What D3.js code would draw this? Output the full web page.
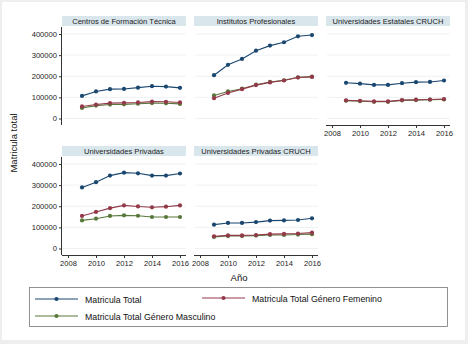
<!DOCTYPE html>
<html><head><meta charset="utf-8">
<script src="https://cdn.jsdelivr.net/npm/d3@7"></script>
<style>body{margin:0;background:#fff}svg{display:block}text{font-family:"Liberation Sans",Arial,sans-serif}</style>
</head><body><svg id="c" width="468" height="344"></svg>
<script>
const years = [2009, 2010, 2011, 2012, 2013, 2014, 2015, 2016];
const panelNames = ["Centros de Formación Técnica", "Institutos Profesionales", "Universidades Estatales CRUCH", "Universidades Privadas", "Universidades Privadas CRUCH"];
const seriesNames = ["Matricula Total", "Matricula Total Género Femenino", "Matricula Total Género Masculino"];
// per panel: total, female, male
const cftTotal = [107000, 128000, 139000, 140000, 146000, 153000, 151000, 145000];
const cftFem = [57000, 66000, 73000, 74000, 76000, 80000, 79000, 76000];
const cftMasc = [50000, 61000, 66000, 67000, 70000, 73000, 72000, 69000];
const ipTotal = [205000, 254000, 282000, 321000, 345000, 361000, 389000, 395000];
const ipFem = [96000, 121000, 139000, 158000, 171000, 180000, 194000, 197000];
const ipMasc = [109000, 128000, 141000, 160000, 173000, 181000, 195000, 198000];
const ueTotal = [169000, 165000, 159000, 159000, 167000, 172000, 173000, 180000];
const ueFem = [86000, 84000, 81000, 81000, 87000, 89000, 90000, 92000];
const ueMasc = [84000, 82000, 79000, 79000, 86000, 87000, 89000, 90000];
const upTotal = [289000, 314000, 345000, 359000, 356000, 345000, 345000, 355000];
const upFem = [154000, 173000, 191000, 204000, 199000, 195000, 198000, 204000];
const upMasc = [133000, 141000, 154000, 157000, 155000, 149000, 149000, 149000];
const upcTotal = [113000, 121000, 121000, 125000, 132000, 133000, 135000, 143000];
const upcFem = [58000, 62000, 62000, 64000, 68000, 69000, 71000, 75000];
const upcMasc = [55000, 59000, 59000, 61000, 64000, 64000, 66000, 68000];
const yTicks = [0, 100000, 200000, 300000, 400000];
const xTicks = [2008, 2010, 2012, 2014, 2016];

const panelData = [
  [cftTotal, cftFem, cftMasc],
  [ipTotal, ipFem, ipMasc],
  [ueTotal, ueFem, ueMasc],
  [upTotal, upFem, upMasc],
  [upcTotal, upcFem, upcMasc]
];
const colors = ["#1a476f", "#93394a", "#58783a"];

const svg = d3.select("#c");
svg.append("rect").attr("width", 468).attr("height", 344).attr("fill", "#eeeeee");
svg.append("rect").attr("x", 2).attr("y", 2).attr("width", 463).attr("height", 338).attr("fill", "#fff");

const colLeft = [62, 194, 326];
const pw = 124;
const rowBottom = [125, 255];
const ph = 98;
const stripH = 10;

const layout = [
  {c: 0, r: 0, yAx: true, xAx: false},
  {c: 1, r: 0, yAx: false, xAx: false},
  {c: 2, r: 0, yAx: false, xAx: true},
  {c: 0, r: 1, yAx: true, xAx: true},
  {c: 1, r: 1, yAx: false, xAx: true}
];

panelNames.forEach((name, i) => {
  const L = layout[i];
  const x0 = colLeft[L.c], yb = rowBottom[L.r], yt = yb - ph;
  const x = d3.scaleLinear().domain([2007.57, 2016.43]).range([x0, x0 + pw]);
  const y = d3.scaleLinear().domain([0, 400000]).range([yb - 6.5, yb - 6.5 - 84.5]);
  const g = svg.append("g");
  g.append("rect").attr("x", x0).attr("y", yt - stripH - 1).attr("width", pw).attr("height", stripH)
    .attr("fill", "#d9e6ec");
  g.append("text").attr("x", x0 + pw / 2).attr("y", yt - 3.5).attr("text-anchor", "middle")
    .attr("font-size", 7.6).attr("fill", "#222").text(name);
  g.selectAll("line.grid").data(yTicks).enter().append("line")
    .attr("x1", x0 + 1).attr("x2", x0 + pw).attr("y1", d => y(d)).attr("y2", d => y(d))
    .attr("stroke", "#e8eff2").attr("stroke-width", 0.8);
  if (L.yAx) {
    const ya = g.append("g").attr("transform", `translate(${x0},0)`)
      .call(d3.axisLeft(y).tickValues(yTicks).tickSize(3).tickPadding(2).tickFormat(d3.format("d")));
    ya.select(".domain").attr("d", `M-0.5,${yt}V${yb}`).attr("stroke", "#333");
    ya.selectAll("line").attr("stroke", "#333");
    ya.selectAll("text").attr("font-size", 7.6).attr("fill", "#222").attr("font-family", "Liberation Sans, Arial");
  }
  if (L.xAx) {
    const xa = g.append("g").attr("transform", `translate(0,${yb})`)
      .call(d3.axisBottom(x).tickValues(xTicks).tickSize(3).tickPadding(3).tickFormat(d3.format("d")));
    xa.select(".domain").attr("d", `M${x0},0.5H${x0 + pw}`).attr("stroke", "#333");
    xa.selectAll("line").attr("stroke", "#333");
    xa.selectAll("text").attr("font-size", 7.6).attr("fill", "#222").attr("font-family", "Liberation Sans, Arial");
  }
  [2, 1, 0].forEach(s => {
    const vals = panelData[i][s];
    const pts = years.map((yr, k) => [yr, vals[k]]);
    g.append("path").datum(pts).attr("fill", "none").attr("stroke", colors[s]).attr("stroke-width", 1.1)
      .attr("d", d3.line().x(d => x(d[0])).y(d => y(d[1])));
    g.selectAll(null).data(pts).enter().append("circle")
      .attr("cx", d => x(d[0])).attr("cy", d => y(d[1])).attr("r", 2.1).attr("fill", colors[s]);
  });
});

svg.append("text").attr("transform", "translate(17,143) rotate(-90)").attr("text-anchor", "middle")
  .attr("font-size", 9.5).attr("fill", "#111").text("Matricula total");
svg.append("text").attr("x", 239).attr("y", 281).attr("text-anchor", "middle")
  .attr("font-size", 9.5).attr("fill", "#111").text("Año");

const lg = svg.append("g");
lg.append("rect").attr("x", 29.5).attr("y", 287.5).attr("width", 418).attr("height", 39)
  .attr("fill", "#fff").attr("stroke", "#777").attr("stroke-width", 0.8);
const legPos = [[35, 299], [202, 298], [35, 316]];
seriesNames.forEach((n, s) => {
  const [lx, ly] = legPos[s];
  lg.append("line").attr("x1", lx).attr("x2", lx + 43).attr("y1", ly).attr("y2", ly)
    .attr("stroke", colors[s]).attr("stroke-width", 1.1);
  lg.append("circle").attr("cx", lx + 21.5).attr("cy", ly).attr("r", 2.1).attr("fill", colors[s]);
  lg.append("text").attr("x", lx + 50).attr("y", ly + 3.5).attr("font-size", 8.8).attr("fill", "#111").text(n);
});
</script></body></html>
